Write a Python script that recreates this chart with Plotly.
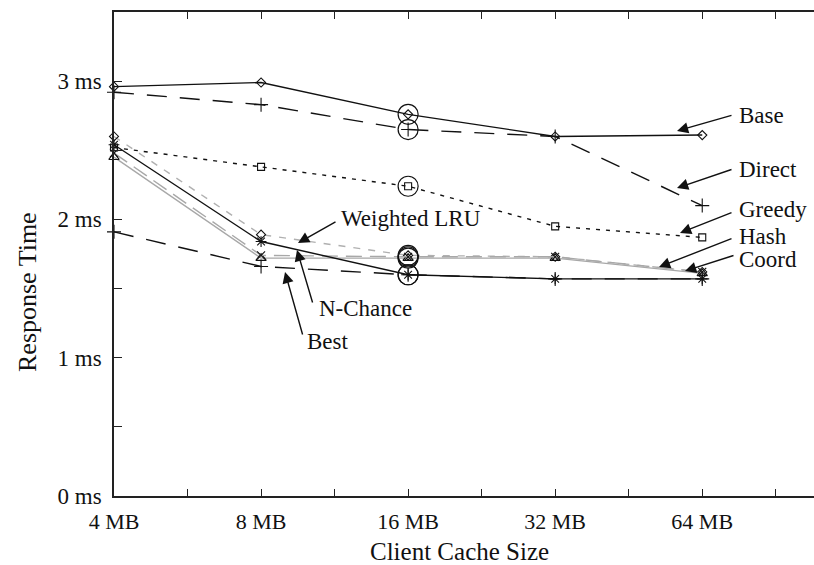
import plotly.graph_objects as go

# Client cache sizes (x positions are category indices 0..4)
cache_sizes = ["4 MB", "8 MB", "16 MB", "32 MB", "64 MB"]
x_idx = [0, 1, 2, 3, 4]

# Average response time in ms per algorithm
base = [2.96, 2.99, 2.76, 2.60, 2.61]
direct = [2.92, 2.83, 2.65, 2.60, 2.10]
greedy = [2.52, 2.38, 2.24, 1.95, 1.87]
weighted_lru = [2.60, 1.89, 1.74, 1.73, 1.62]
hash_ = [2.45, 1.72, 1.72, 1.72, 1.61]
coord = [2.48, 1.74, 1.73, 1.73, 1.62]
n_chance = [2.54, 1.84, 1.60, 1.57, 1.57]
best = [1.91, 1.66, 1.60, 1.57, 1.57]

y_ticks = [0, 0.5, 1, 1.5, 2, 2.5, 3, 3.5]
y_ticktext = ["0 ms", "", "1 ms", "", "2 ms", "", "3 ms", ""]

FONT = "Liberation Serif"
W, H = 814, 565
ML, MR, MT, MB = 114, 0, 12, 69
X_MAX = 4.76
Y_MAX = 3.5

fig = go.Figure()

series = [
    ("Base", base, "#111", "solid", "diamond-open", 7, 1.4),
    ("Direct", direct, "#111", "20px,13px", "cross-thin-open", 10, 1.4),
    ("Greedy", greedy, "#111", "4px,6px", "square-open", 7, 1.4),
    ("Weighted LRU", weighted_lru, "#b0b0b0", "7px,8px", "diamond-open", 7, 1.4),
    ("Hash", hash_, "#a8a8a8", "solid", "triangle-up-open", 9, 1.4),
    ("Coord", coord, "#a8a8a8", "16px,8px", "x-thin-open", 8, 1.4),
    ("N-Chance", n_chance, "#111", "solid", "asterisk-open", 9, 1.4),
    ("Best", best, "#111", "20px,13px", "cross-thin-open", 10, 1.4),
]

for name, ys, color, dash, sym, size, width in series:
    fig.add_trace(go.Scatter(
        x=x_idx, y=ys, name=name, mode="lines+markers",
        line=dict(color=color, width=width, dash=dash),
        marker=dict(symbol=sym, size=size, color="#111",
                    line=dict(color="#111", width=1.1)),
        showlegend=False, cliponaxis=False,
    ))

# Highlight rings around the 16 MB points
ring_y = [s[1][2] for s in series]
fig.add_trace(go.Scatter(
    x=[x_idx[2]] * len(ring_y), y=ring_y, mode="markers",
    marker=dict(symbol="circle-open", size=20, color="#111",
                line=dict(color="#111", width=1.2)),
    showlegend=False, hoverinfo="skip",
))


def px_to_paper(px, py):
    return (px - ML) / (W - ML - MR), (H - MB - py) / (H - MT - MB)


annotations = []

# Arrow callouts: (text, text-left x, text centre y, tail x, tail y, tip x, tip y)
callouts = [
    ("Base", 737, 115, 733, 115, 677, 131),
    ("Direct", 737, 169, 733, 169, 677, 188),
    ("Greedy", 737, 210, 733, 212, 680, 233),
    ("Hash", 737, 237, 733, 238, 659, 267),
    ("Coord", 737, 259, 735, 255, 685, 271),
    ("Weighted LRU", 339, 218, 337, 221, 298, 243),
    ("N-Chance", 317, 308, 313, 304, 297, 250),
    ("Best", 305, 341, 303, 336, 285, 272),
]

for text, tx, ty, ax_, ay_, hx, hy in callouts:
    px, py = px_to_paper(tx, ty)
    annotations.append(dict(
        text=text, x=px, y=py, xref="paper", yref="paper",
        xanchor="left", yanchor="middle", showarrow=False,
        font=dict(family=FONT, size=23, color="#111"),
    ))
    hx_p, hy_p = px_to_paper(hx, hy)
    annotations.append(dict(
        text="", x=hx_p, y=hy_p, xref="paper", yref="paper",
        showarrow=True, ax=ax_ - hx, ay=ay_ - hy,
        arrowhead=2, arrowsize=1.6, arrowwidth=1.4, arrowcolor="#111",
        standoff=0, startstandoff=0,
    ))

# Axis titles
tx, ty = px_to_paper(459, 551)
annotations.append(dict(
    text="Client Cache Size", x=tx, y=ty, xref="paper", yref="paper",
    xanchor="center", yanchor="middle", showarrow=False,
    font=dict(family=FONT, size=25, color="#111"),
))
tx, ty = px_to_paper(27, 292)
annotations.append(dict(
    text="Response Time", x=tx, y=ty, xref="paper", yref="paper",
    xanchor="center", yanchor="middle", showarrow=False, textangle=-90,
    font=dict(family=FONT, size=26, color="#111"),
))

fig.update_layout(
    width=W, height=H,
    margin=dict(l=ML, r=MR, t=MT, b=MB),
    paper_bgcolor="white", plot_bgcolor="white",
    font=dict(family=FONT, size=22, color="#111"),
    annotations=annotations,
    xaxis=dict(
        range=[0, X_MAX], showgrid=False, zeroline=False,
        tickvals=[i * 0.5 for i in range(10)],
        ticktext=[cache_sizes[i // 2] if i % 2 == 0 else "" for i in range(10)],
        ticks="inside", ticklen=7, tickwidth=1.2, tickcolor="#222",
        showline=True, linecolor="#222", linewidth=1.6, mirror="ticks",
        ticklabelstandoff=5,
        tickfont=dict(family=FONT, size=22, color="#111"),
    ),
    yaxis=dict(
        range=[0, Y_MAX], showgrid=False, zeroline=False,
        tickvals=y_ticks, ticktext=y_ticktext,
        ticks="inside", ticklen=8, tickwidth=1.2, tickcolor="#222",
        showline=True, linecolor="#222", linewidth=1.6,
        ticklabelstandoff=6,
        tickfont=dict(family=FONT, size=23, color="#111"),
    ),
)

fig.write_html("out.html")
